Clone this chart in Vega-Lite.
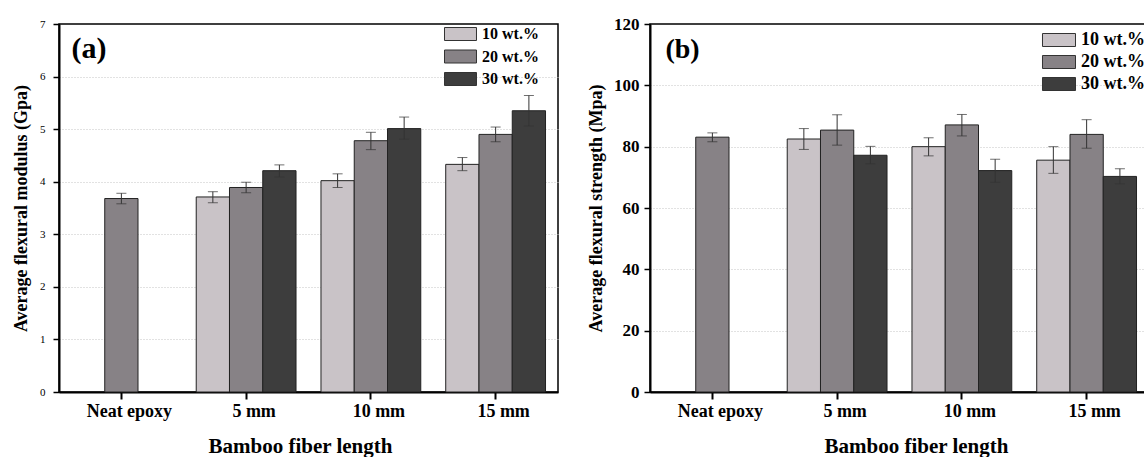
{
  "$schema": "https://vega.github.io/schema/vega-lite/v6.json",
  "padding": {"left": 11, "top": 14, "right": 0, "bottom": 0},
  "config": {
    "font": "Liberation Serif",
    "view": {"stroke": "#000", "strokeWidth": 1.5},
    "axis": {"labelFont": "Liberation Serif", "titleFont": "Liberation Serif", "domainColor": "#000", "tickColor": "#000", "labelColor": "#000", "titleColor": "#000", "titleFontWeight": "bold"},
    "legend": {"labelFont": "Liberation Serif"},
    "text": {"font": "Liberation Serif"}
  },
  "datasets": {
    "modulus": [
      {"length": "Neat epoxy", "wt": "20 wt.%", "value": 3.68, "lo": 3.58, "hi": 3.78},
      {"length": "5 mm", "wt": "10 wt.%", "value": 3.71, "lo": 3.60, "hi": 3.81},
      {"length": "5 mm", "wt": "20 wt.%", "value": 3.89, "lo": 3.79, "hi": 3.99},
      {"length": "5 mm", "wt": "30 wt.%", "value": 4.21, "lo": 4.09, "hi": 4.32},
      {"length": "10 mm", "wt": "10 wt.%", "value": 4.02, "lo": 3.89, "hi": 4.15},
      {"length": "10 mm", "wt": "20 wt.%", "value": 4.78, "lo": 4.61, "hi": 4.94},
      {"length": "10 mm", "wt": "30 wt.%", "value": 5.01, "lo": 4.81, "hi": 5.23},
      {"length": "15 mm", "wt": "10 wt.%", "value": 4.33, "lo": 4.21, "hi": 4.46},
      {"length": "15 mm", "wt": "20 wt.%", "value": 4.90, "lo": 4.76, "hi": 5.04},
      {"length": "15 mm", "wt": "30 wt.%", "value": 5.35, "lo": 5.06, "hi": 5.64}
    ],
    "strength": [
      {"length": "Neat epoxy", "wt": "20 wt.%", "value": 83.1, "lo": 81.6, "hi": 84.5},
      {"length": "5 mm", "wt": "10 wt.%", "value": 82.5, "lo": 79.1, "hi": 85.9},
      {"length": "5 mm", "wt": "20 wt.%", "value": 85.4, "lo": 80.5, "hi": 90.4},
      {"length": "5 mm", "wt": "30 wt.%", "value": 77.2, "lo": 74.4, "hi": 80.1},
      {"length": "10 mm", "wt": "10 wt.%", "value": 80.0, "lo": 77.0, "hi": 82.9},
      {"length": "10 mm", "wt": "20 wt.%", "value": 87.1, "lo": 83.5, "hi": 90.5},
      {"length": "10 mm", "wt": "30 wt.%", "value": 72.2, "lo": 68.4, "hi": 75.9},
      {"length": "15 mm", "wt": "10 wt.%", "value": 75.6, "lo": 71.3, "hi": 80.0},
      {"length": "15 mm", "wt": "20 wt.%", "value": 84.0, "lo": 79.5, "hi": 88.8},
      {"length": "15 mm", "wt": "30 wt.%", "value": 70.3, "lo": 67.9, "hi": 72.8}
    ]
  },
  "spacing": 92,
  "bounds": "flush",
  "resolve": {"scale": {"color": "independent"}, "legend": {"color": "independent"}},
  "hconcat": [
    {
      "width": 499,
      "height": 368,
      "encoding": {
        "x": {
          "field": "length", "type": "nominal",
          "sort": ["Neat epoxy", "5 mm", "10 mm", "15 mm"],
          "scale": {"domain": ["Neat epoxy", "5 mm", "10 mm", "15 mm"], "paddingInner": 0.2, "paddingOuter": 0.1},
          "axis": {
            "title": "Bamboo fiber length", "titleFontSize": 21, "titlePadding": 15, "titleX": 241,
            "labelAngle": 0, "labelFontSize": 18, "labelFontWeight": "bold", "labelOffset": 8, "labelPadding": 3,
            "tickSize": 7, "tickWidth": 2, "domainWidth": 2, "grid": false
          }
        }
      },
      "layer": [
        {
          "data": {"name": "modulus"},
          "mark": {"type": "bar", "stroke": "#222", "strokeWidth": 1},
          "encoding": {
            "xOffset": {"field": "wt", "type": "nominal", "scale": {"domain": ["10 wt.%", "20 wt.%", "30 wt.%"], "paddingInner": 0, "paddingOuter": 0}},
            "y": {
              "field": "value", "type": "quantitative",
              "scale": {"domain": [0, 7], "nice": false},
              "axis": {
                "title": "Average flexural modulus (Gpa)", "titleFontSize": 18, "titlePadding": 9,
                "values": [0, 0.5, 1, 1.5, 2, 2.5, 3, 3.5, 4, 4.5, 5, 5.5, 6, 6.5, 7],
                "format": "d",
                "labelExpr": "datum.value % 1 === 0 ? datum.label : ''",
                "labelFontSize": 11, "labelFontWeight": "normal", "labelPadding": 8,
                "tickSize": {"condition": {"test": "datum.value % 1 !== 0", "value": 3}, "value": 6},
                "tickWidth": 1.5, "domainWidth": 2,
                "grid": true, "gridColor": "#c4c4c4", "gridDash": [1, 2],
                "gridOpacity": {"condition": {"test": "datum.value % 1 !== 0 || datum.value === 0 || datum.value === 7", "value": 0}, "value": 1}
              }
            },
            "color": {
              "field": "wt", "type": "nominal",
              "scale": {"domain": ["10 wt.%", "20 wt.%", "30 wt.%"], "range": ["#c9c3c7", "#878286", "#3d3d3d"]},
              "legend": {
                "orient": "none", "legendX": 393.5, "legendY": 2, "title": null, "padding": 0,
                "symbolType": "M-2.46,-1H2.46V1H-2.46Z", "symbolSize": 169, "symbolStrokeColor": "#333", "symbolStrokeWidth": 1,
                "labelFontSize": 16, "labelFontWeight": "bold", "labelColor": "#000", "labelOffset": 13.5, "rowPadding": 4.5
              }
            }
          }
        },
        {
          "data": {"name": "modulus"},
          "mark": {"type": "rule", "color": "#333", "strokeWidth": 1},
          "encoding": {
            "xOffset": {"field": "wt", "type": "nominal", "scale": {"domain": ["10 wt.%", "20 wt.%", "30 wt.%"]}},
            "y": {"field": "lo", "type": "quantitative"},
            "y2": {"field": "hi"}
          }
        },
        {
          "data": {"name": "modulus"},
          "mark": {"type": "tick", "color": "#333", "size": 10, "thickness": 1},
          "encoding": {
            "xOffset": {"field": "wt", "type": "nominal", "scale": {"domain": ["10 wt.%", "20 wt.%", "30 wt.%"]}},
            "y": {"field": "lo", "type": "quantitative"}
          }
        },
        {
          "data": {"name": "modulus"},
          "mark": {"type": "tick", "color": "#333", "size": 10, "thickness": 1},
          "encoding": {
            "xOffset": {"field": "wt", "type": "nominal", "scale": {"domain": ["10 wt.%", "20 wt.%", "30 wt.%"]}},
            "y": {"field": "hi", "type": "quantitative"}
          }
        },
        {
          "data": {"values": [{"length": "Neat epoxy", "pos": 6.35, "label": "(a)"}]},
          "mark": {"type": "text", "align": "left", "baseline": "alphabetic", "fontSize": 30, "fontWeight": "bold", "color": "#000"},
          "encoding": {
            "x": {"field": "length", "type": "nominal", "bandPosition": 0},
            "y": {"field": "pos", "type": "quantitative"},
            "text": {"field": "label"}
          }
        }
      ]
    },
    {
      "width": 499,
      "height": 368,
      "encoding": {
        "x": {
          "field": "length", "type": "nominal",
          "sort": ["Neat epoxy", "5 mm", "10 mm", "15 mm"],
          "scale": {"domain": ["Neat epoxy", "5 mm", "10 mm", "15 mm"], "paddingInner": 0.2, "paddingOuter": 0.1},
          "axis": {
            "title": "Bamboo fiber length", "titleFontSize": 21, "titlePadding": 15, "titleX": 266,
            "labelAngle": 0, "labelFontSize": 18, "labelFontWeight": "bold", "labelOffset": 8, "labelPadding": 3,
            "tickSize": 7, "tickWidth": 2, "domainWidth": 2, "grid": false
          }
        }
      },
      "layer": [
        {
          "data": {"name": "strength"},
          "mark": {"type": "bar", "stroke": "#222", "strokeWidth": 1},
          "encoding": {
            "xOffset": {"field": "wt", "type": "nominal", "scale": {"domain": ["10 wt.%", "20 wt.%", "30 wt.%"], "paddingInner": 0, "paddingOuter": 0}},
            "y": {
              "field": "value", "type": "quantitative",
              "scale": {"domain": [0, 120], "nice": false},
              "axis": {
                "title": "Average flexural strength (Mpa)", "titleFontSize": 18, "titlePadding": 8,
                "values": [0, 10, 20, 30, 40, 50, 60, 70, 80, 90, 100, 110, 120],
                "labelExpr": "datum.value % 20 === 0 ? datum.label : ''",
                "labelFontSize": 17, "labelFontWeight": "bold", "labelPadding": 5,
                "tickSize": {"condition": {"test": "datum.value % 20 !== 0", "value": 3}, "value": 6},
                "tickWidth": 1.5, "domainWidth": 2,
                "grid": true, "gridColor": "#c4c4c4", "gridDash": [1, 2],
                "gridOpacity": {"condition": {"test": "datum.value % 20 !== 0 || datum.value === 0 || datum.value === 120", "value": 0}, "value": 1}
              }
            },
            "color": {
              "field": "wt", "type": "nominal",
              "scale": {"domain": ["10 wt.%", "20 wt.%", "30 wt.%"], "range": ["#c9c3c7", "#878286", "#3d3d3d"]},
              "legend": {
                "orient": "none", "legendX": 400, "legendY": 7, "title": null, "padding": 0,
                "symbolType": "M-2.54,-1H2.54V1H-2.54Z", "symbolSize": 169, "symbolStrokeColor": "#333", "symbolStrokeWidth": 1,
                "labelFontSize": 18, "labelFontWeight": "bold", "labelColor": "#000", "labelOffset": 13, "rowPadding": 4
              }
            }
          }
        },
        {
          "data": {"name": "strength"},
          "mark": {"type": "rule", "color": "#333", "strokeWidth": 1},
          "encoding": {
            "xOffset": {"field": "wt", "type": "nominal", "scale": {"domain": ["10 wt.%", "20 wt.%", "30 wt.%"]}},
            "y": {"field": "lo", "type": "quantitative"},
            "y2": {"field": "hi"}
          }
        },
        {
          "data": {"name": "strength"},
          "mark": {"type": "tick", "color": "#333", "size": 10, "thickness": 1},
          "encoding": {
            "xOffset": {"field": "wt", "type": "nominal", "scale": {"domain": ["10 wt.%", "20 wt.%", "30 wt.%"]}},
            "y": {"field": "lo", "type": "quantitative"}
          }
        },
        {
          "data": {"name": "strength"},
          "mark": {"type": "tick", "color": "#333", "size": 10, "thickness": 1},
          "encoding": {
            "xOffset": {"field": "wt", "type": "nominal", "scale": {"domain": ["10 wt.%", "20 wt.%", "30 wt.%"]}},
            "y": {"field": "hi", "type": "quantitative"}
          }
        },
        {
          "data": {"values": [{"length": "Neat epoxy", "pos": 108.9, "label": "(b)"}]},
          "mark": {"type": "text", "align": "left", "baseline": "alphabetic", "fontSize": 28, "fontWeight": "bold", "color": "#000", "dx": 3},
          "encoding": {
            "x": {"field": "length", "type": "nominal", "bandPosition": 0},
            "y": {"field": "pos", "type": "quantitative"},
            "text": {"field": "label"}
          }
        }
      ]
    }
  ]
}
